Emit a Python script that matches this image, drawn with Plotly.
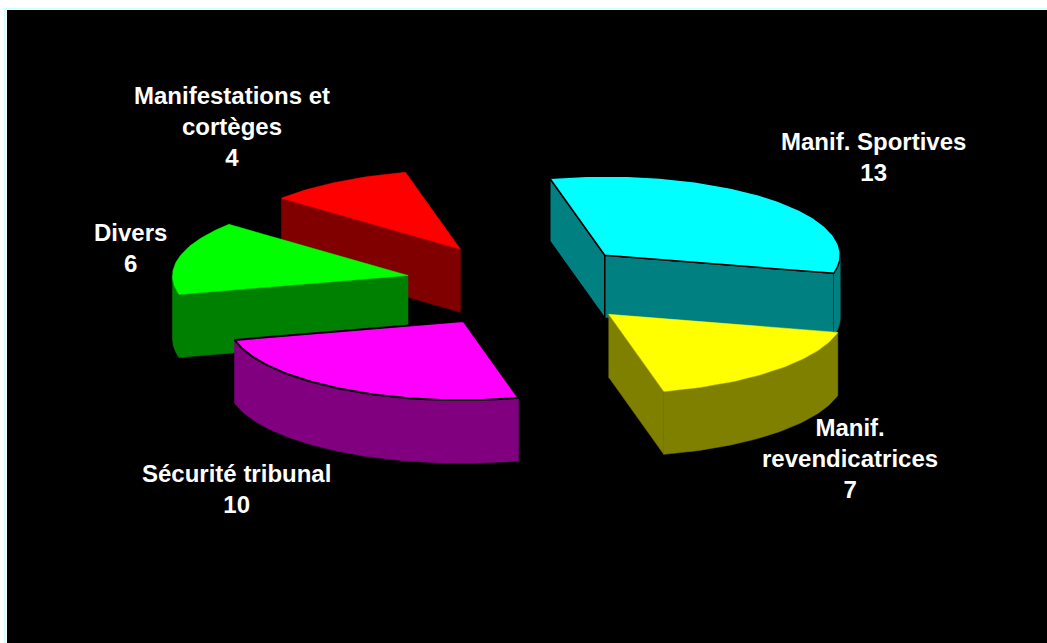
import math
import plotly.graph_objects as go

# ---- data ----
labels = ["Manif. Sportives", "Manif.<br>revendicatrices", "Sécurité tribunal", "Divers", "Manifestations et<br>cortèges"]
values = [13, 7, 10, 6, 4]
top_colors = ["#00ffff", "#ffff00", "#ff00ff", "#00ff00", "#ff0000"]
side_colors = ["#008080", "#808000", "#800080", "#008000", "#800000"]

# ---- pie projection (page pixels): a tilted circle drawn as an affine map ----
CENTER = (523.5, 284.5)
U = (-55.0, -77.0)     # screen vector of the radius at angle 0
V = (229.0, -19.0)     # screen vector of the radius 90 degrees clockwise
DEPTH = 63.0
EXPLODE = 0.5
NUDGE = [(-2, -1), (2, 2), (1.5, 2.5), (-1, 0), (-1.5, -1.5)]  # small per-slice shift
DRAW_ORDER = [4, 3, 2, 0, 1]
OUTLINED = {0: 1.5, 2: 2}
label_pos = [(873, 156.5), (850, 458), (236, 488.5), (130, 247.5), (232, 126)]


def radius_point(theta, r, origin):
    c, s = math.cos(theta), math.sin(theta)
    return (origin[0] + r * (c * U[0] + s * V[0]), origin[1] + r * (c * U[1] + s * V[1]))


total = sum(values)
fig = go.Figure()


def add_poly(points, fill, line_color, line_width):
    xs = [p[0] for p in points] + [points[0][0]]
    ys = [p[1] for p in points] + [points[0][1]]
    fig.add_trace(go.Scatter(
        x=xs, y=ys, mode="lines", fill="toself", fillcolor=fill,
        line=dict(color=line_color, width=line_width),
        hoverinfo="skip", showlegend=False,
    ))


starts = []
acc = 0
for v in values:
    starts.append(acc)
    acc += v

for i in DRAW_ORDER:
    a0 = 2 * math.pi * starts[i] / total
    a1 = 2 * math.pi * (starts[i] + values[i]) / total
    mid = (a0 + a1) / 2
    apex = radius_point(mid, EXPLODE, CENTER)
    apex = (apex[0] + NUDGE[i][0], apex[1] + NUDGE[i][1])
    n = max(8, int(values[i] * 8))
    arc = [radius_point(a0 + (a1 - a0) * k / n, 1.0, apex) for k in range(n + 1)]
    down = lambda p: (p[0], p[1] + DEPTH)
    lw = OUTLINED.get(i, 0)
    edge = "#000000" if lw else side_colors[i]
    ew = min(lw, 1.5) if lw else 0.5

    # side faces seen from the front: a boundary run clockwise faces the viewer when it goes left
    for p, q in [(apex, arc[0]), (arc[-1], apex)]:
        if q[0] < p[0]:
            add_poly([p, q, down(q), down(p)], side_colors[i], edge, ew)
    # outer wall: only the part of the arc that runs leftwards
    wall = []
    for k in range(n + 1):
        prev_ok = k > 0 and arc[k][0] < arc[k - 1][0]
        next_ok = k < n and arc[k + 1][0] < arc[k][0]
        if prev_ok or next_ok:
            wall.append(arc[k])
    if len(wall) > 1:
        add_poly(wall + [down(p) for p in reversed(wall)], side_colors[i], side_colors[i], 0.5)
    # top face
    add_poly([apex] + arc, top_colors[i], "#000000" if lw else top_colors[i], lw if lw else 0.5)

for i, text in enumerate(labels):
    fig.add_annotation(
        x=label_pos[i][0], y=label_pos[i][1], xref="x", yref="y",
        text=f"{text}<br>{values[i]}", showarrow=False,
        xanchor="center", yanchor="middle", align="center",
        font=dict(family="Liberation Sans, Arial, sans-serif", size=24, color="#ffffff", weight="bold"),
    )

fig.update_layout(
    width=1047, height=643,
    margin=dict(l=7, r=0, t=10, b=0),
    paper_bgcolor="#ffffff", plot_bgcolor="#000000",
    showlegend=False,
    xaxis=dict(range=[7, 1047], visible=False, fixedrange=True),
    yaxis=dict(range=[643, 10], visible=False, fixedrange=True),
    shapes=[dict(type="line", xref="paper", yref="paper", x0=-0.002, x1=-0.002, y0=0, y1=1.004,
                 line=dict(color="#ccffff", width=2)),
            dict(type="line", xref="paper", yref="paper", x0=-0.002, x1=1, y0=1.002, y1=1.002,
                 line=dict(color="#ccffff", width=2))],
)
fig.update_xaxes(showgrid=False, zeroline=False)
fig.update_yaxes(showgrid=False, zeroline=False)

fig.write_html("out.html", config=dict(displayModeBar=False, responsive=False),
               post_script="document.body.style.margin='0';document.body.style.overflow='hidden';")
